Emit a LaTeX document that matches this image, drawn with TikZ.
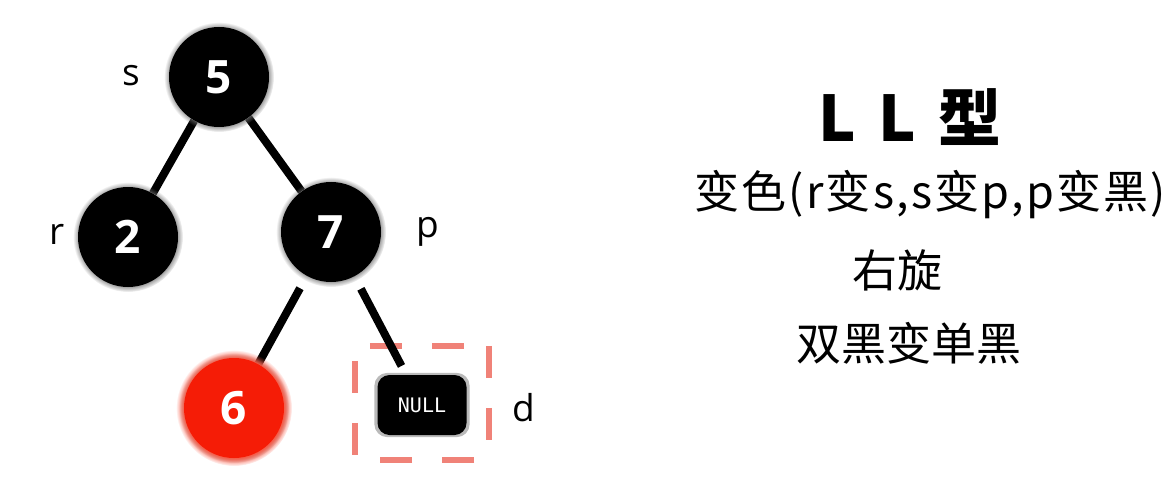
\documentclass[tikz,border=0pt]{standalone}
\usepackage{fontspec}
\setmainfont{Noto Sans CJK SC}
\newfontfamily\digitfont{Open Sans}
\setmonofont{DejaVu Sans Mono}
\usetikzlibrary{shadows,backgrounds}
\definecolor{nodered}{RGB}{245,28,6}
\definecolor{glowred}{RGB}{250,90,70}
\definecolor{marksalmon}{RGB}{240,130,120}
\tikzset{
	rbnode/.style={circle,inner sep=0pt,minimum size=100pt,fill=black,text=white,
		font=\digitfont\bfseries\fontsize{46}{46}\selectfont,
		circular glow={fill=black!55,shadow scale=1.1}},
	rednode/.style={rbnode,fill=nodered,circular glow={fill=glowred,shadow scale=1.16}},
	nullbox/.style={rectangle,rounded corners=12pt,minimum width=89pt,minimum height=60pt,
		fill=black,text=white,font=\ttfamily\fontsize{20}{20}\selectfont,
		drop shadow={shadow xshift=0pt,shadow yshift=0pt,shadow scale=1.07,fill=black!45,opacity=.6}},
	edge/.style={draw=black,line width=8pt},
	markline/.style={draw=marksalmon,line width=6pt,dash pattern=on 32pt off 30pt},
	lbl/.style={font=\digitfont\fontsize{37}{37}\selectfont},
	txt/.style={font=\fontsize{45}{45}\selectfont}
}
\begin{document}
\begin{tikzpicture}[x=1pt,y=-1pt]
	\useasboundingbox (0,0) rectangle (1174,481);
	% tree
	\node (n5)[rbnode] at (219,77) {5};
	\node (n2)[rbnode] at (128,237) {2};
	\node (n7)[rbnode] at (331,232) {7};
	\node (n6)[rednode] at (234,408) {6};
	\node (nil)[nullbox] at (422,405) {NULL};
	\node (dbox)[minimum width=134pt,minimum height=114pt,inner sep=0pt] at (422,403) {};
	\begin{scope}[on background layer]
		\foreach \a/\b/\ph in {north west/north east/47,north east/south east/0,south east/south west/47,north west/south west/47}
			\draw[markline,dash phase=\ph pt] (dbox.\a) -- (dbox.\b);
		\draw[edge] (n5) -- (n2);
		\draw[edge] (n5) -- (n7);
		\draw[edge,shorten <=14pt] (n7) -- (n6);
		\draw[edge,shorten <=14pt,shorten >=10pt] (n7) -- (nil);
	\end{scope}
	% labels
	\node (ls)[lbl] at (131,76) {s};
	\node (lr)[lbl] at (57,234) {r};
	\node (lp)[lbl] at (428,232) {p};
	\node (ld)[lbl] at (524,408) {d};
	% text
	\node (title) at (910,117) {\fontsize{63}{63}\selectfont\bfseries L\hspace{22pt}L\hspace{22pt}型};
	\node (step1)[txt] at (930,195) {\addfontfeature{LetterSpace=5}变色(r变s,s变p,p变黑)};
	\node (step2)[txt] at (897,270) {右旋};
	\node (step3)[txt] at (909,343) {双黑变单黑};
\end{tikzpicture}
\end{document}
